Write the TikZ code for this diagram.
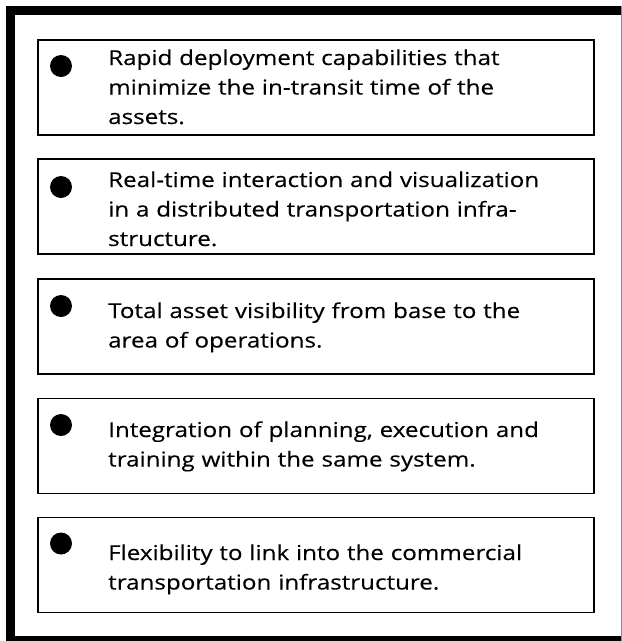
\documentclass[tikz,border=0pt]{standalone}
\usepackage{fontspec}
\setmainfont[FakeStretch=1.18,FakeBold=0.25]{Open Sans}
\begin{document}
\begin{tikzpicture}[x=1pt,y=-1pt,
  itembox/.style={draw=black, line width=1.8pt, minimum width=556pt, minimum height=95pt, inner sep=0pt},
  bulletdot/.style={circle, fill=black, minimum size=22pt, inner sep=0pt},
  itemtext/.style={anchor=base west, align=left, inner sep=0pt, text width=480pt,
    font=\fontsize{20.5}{29.5}\selectfont}]
\useasboundingbox (0,0) rectangle (622,641);
% outer frame
\fill[black] (6,6) rectangle (622,15);
\fill[black] (6,6) rectangle (15,641);
\fill[black] (6,636) rectangle (622,641);
\draw[black!45, line width=1pt] (621,6) -- (621,641);
% boxes
\node[itembox] (b1) at (316,87.5) {};
\node[itembox] (b2) at (316,206.5) {};
\node[itembox] (b3) at (316,326.5) {};
\node[itembox] (b4) at (316,446) {};
\node[itembox] (b5) at (316,565) {};
% bullets
\node[bulletdot] (d1) at (61,66) {};
\node[bulletdot] (d2) at (61,187) {};
\node[bulletdot] (d3) at (61,306) {};
\node[bulletdot] (d4) at (61,425) {};
\node[bulletdot] (d5) at (61,543.5) {};
% texts
\node[itemtext] (t1) at (108,65) {Rapid deployment capabilities that\\minimize the in-transit time of the\\assets.};
\node[itemtext] (t2) at (108,187) {Real-time interaction and visualization\\in a distributed transportation infra-\\structure.};
\node[itemtext] (t3) at (108,318) {Total asset visibility from base to the\\area of operations.};
\node[itemtext] (t4) at (108,437) {Integration of planning, execution and\\training within the same system.};
\node[itemtext] (t5) at (108,560) {Flexibility to link into the commercial\\transportation infrastructure.};
\end{tikzpicture}
\end{document}
